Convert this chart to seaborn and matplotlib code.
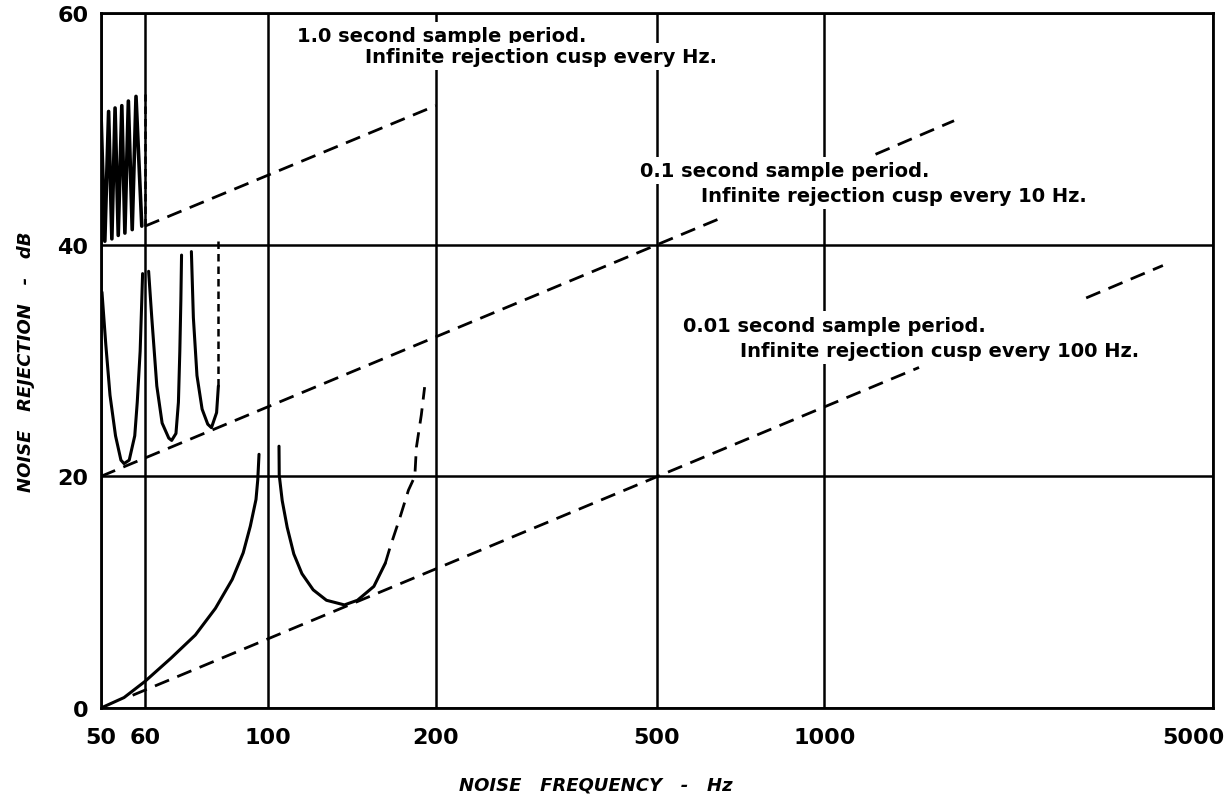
import numpy as np
import pandas as pd
import matplotlib
matplotlib.use("Agg")
import matplotlib.pyplot as plt
import matplotlib.transforms as mtransforms
from matplotlib.ticker import NullLocator
import seaborn as sns

# --- values (frequency in Hz, rejection in dB) ---

# 1.0 s sample period: dense cusps between 50 and 60 Hz (drawn as a zigzag)
f_1s = [50.0, 50.8, 51.6, 52.3, 53.0, 53.7, 54.5, 55.2, 56.0, 56.9, 57.8, 59.2]
db_1s = [51.3, 40.3, 51.5, 40.5, 51.8, 40.8, 52.0, 41.0, 52.4, 41.3, 52.8, 41.6]

# 0.1 s sample period: three branches between cusps
f_01s_a = [50.2, 51.0, 51.9, 53.1, 54.3, 55.0, 56.2, 57.5, 58.1, 58.8, 59.2, 59.4]
db_01s_a = [35.9, 31.4, 27.0, 23.5, 21.4, 21.1, 21.4, 23.5, 26.4, 30.8, 35.2, 37.5]
f_01s_b = [60.9, 61.7, 63.0, 64.4, 66.2, 67.0, 68.2, 68.9, 69.3, 69.6, 69.8]
db_01s_b = [37.7, 33.7, 27.8, 24.6, 23.3, 23.1, 23.7, 26.4, 30.8, 35.2, 39.1]
f_01s_c = [72.7, 73.3, 74.4, 76.0, 77.8, 79.0, 80.7, 81.3]
db_01s_c = [39.4, 33.7, 28.7, 25.8, 24.5, 24.2, 25.5, 27.8]

# 0.01 s sample period
f_001s_rise = [50.0, 55.0, 60.0, 66.8, 73.9, 80.3, 86.1, 90.1, 92.8, 95.0, 95.7, 96.2]
db_001s_rise = [0.0, 0.9, 2.3, 4.3, 6.3, 8.6, 11.1, 13.4, 15.7, 18.0, 19.7, 21.9]
f_001s_fall = [104.5, 104.6, 105.9, 108.1, 111.1, 114.9, 120.4, 127.2, 137.0, 144.6, 154.8, 162.3]
db_001s_fall = [22.6, 20.1, 17.9, 15.6, 13.3, 11.6, 10.2, 9.3, 8.9, 9.3, 10.5, 12.5]
f_001s_tail = [162.3, 165.6, 172.6, 178.6, 183.4, 184.6, 188.4, 191.0]
db_001s_tail = [12.5, 13.9, 16.5, 18.8, 20.0, 22.5, 25.3, 27.7]

# dashed envelope lines (segments broken by the captions)
env_1s_f = [60, 200]
env_1s_db = [41.6, 52.0]
env_1s_end_f = [60, 60]
env_1s_end_db = [41.6, 53.0]
env_01s_f = [50, 652]
env_01s_db = [20.0, 42.3]
env_01s_hi_f = [1236, 1711]
env_01s_hi_db = [47.8, 50.7]
env_01s_end_f = [81.3, 81.3]
env_01s_end_db = [27.8, 40.3]
env_001s_f = [57, 1480]
env_001s_db = [1.1, 29.4]
env_001s_hi_f = [2957, 4063]
env_001s_hi_db = [35.4, 38.2]

x_ticks = [50, 60, 100, 200, 500, 1000, 5000]
y_ticks = [0, 20, 40, 60]

captions = [
    ("1.0 second sample period.", 0.176, 0.967),
    ("Infinite rejection cusp every Hz.", 0.237, 0.937),
    ("0.1 second sample period.", 0.485, 0.773),
    ("Infinite rejection cusp every 10 Hz.", 0.540, 0.738),
    ("0.01 second sample period.", 0.523, 0.551),
    ("Infinite rejection cusp every 100 Hz.", 0.575, 0.514),
]


def segments(pairs):
    rows = []
    for i, (f, db) in enumerate(pairs):
        for a, b in zip(f, db):
            rows.append({"freq": a, "db": b, "branch": i})
    return pd.DataFrame(rows)


zigzag = segments([(f_1s, db_1s)])
solid = segments([(f_01s_a, db_01s_a), (f_01s_b, db_01s_b),
                  (f_01s_c, db_01s_c), (f_001s_rise, db_001s_rise),
                  (f_001s_fall, db_001s_fall)])
dashed = segments([(env_1s_f, env_1s_db), (env_01s_f, env_01s_db),
                   (env_01s_hi_f, env_01s_hi_db), (env_001s_f, env_001s_db),
                   (env_001s_hi_f, env_001s_hi_db), (f_001s_tail, db_001s_tail)])
short_dash = segments([(env_1s_end_f, env_1s_end_db), (env_01s_end_f, env_01s_end_db)])

sns.set_style("white")
plt.rcParams['font.family'] = ['DejaVu Sans']
plt.rcParams['text.color'] = 'black'
plt.rcParams['axes.labelcolor'] = 'black'

fig = plt.figure(figsize=(12.31, 8.03), dpi=100)
ax = fig.add_axes([101/1231, 1 - 709/803, 1112/1231, 695/803])
ax.set_xscale("log")

line_kw = dict(x="freq", y="db", units="branch", estimator=None, sort=False,
               color="black", ax=ax, solid_joinstyle="round", solid_capstyle="round")
sns.lineplot(data=zigzag, lw=2.6, **line_kw)
sns.lineplot(data=solid, lw=2.2, **line_kw)
sns.lineplot(data=dashed, lw=2.0, linestyle=(0, (5.5, 3.2)), **line_kw)
sns.lineplot(data=short_dash, lw=1.8, linestyle=(0, (3, 2)), **line_kw)

ax.set_xlim(50, 5000)
ax.set_ylim(0, 60)
ax.set_xticks(x_ticks)
ax.set_xticklabels([str(t) for t in x_ticks])
ax.xaxis.set_minor_locator(NullLocator())
ax.set_yticks(y_ticks)
ax.grid(True, color="black", lw=1.8)
ax.set_axisbelow(True)
for s in ax.spines.values():
    s.set_color("black")
    s.set_linewidth(2)
ax.tick_params(axis="both", direction="out", length=6, width=2, colors="black",
               labelsize=16)
ax.tick_params(axis="x", pad=8)
ax.tick_params(axis="y", pad=3)
for lab in ax.get_xticklabels() + ax.get_yticklabels():
    lab.set_fontweight("bold")
    lab.set_color("black")
# last label sits at the right edge of the figure: shift it left of its tick
last = ax.get_xticklabels()[-1]
last.set_transform(last.get_transform() +
                   mtransforms.ScaledTranslation(-0.2, 0, fig.dpi_scale_trans))

ax.set_xlabel("NOISE   FREQUENCY   -   Hz", fontsize=13, style="italic",
              fontweight="bold", color="black")
ax.xaxis.set_label_coords(0.445, -0.097)
ax.set_ylabel("NOISE   REJECTION   -   dB", fontsize=13, style="italic",
              fontweight="bold", color="black", labelpad=16)

for txt, x, y in captions:
    ax.text(x, y, txt, transform=ax.transAxes, fontsize=14, fontweight="bold",
            color="black", va="center", ha="left", zorder=5,
            bbox=dict(facecolor="white", edgecolor="none", pad=3))

fig.savefig("out.png", dpi=100)
